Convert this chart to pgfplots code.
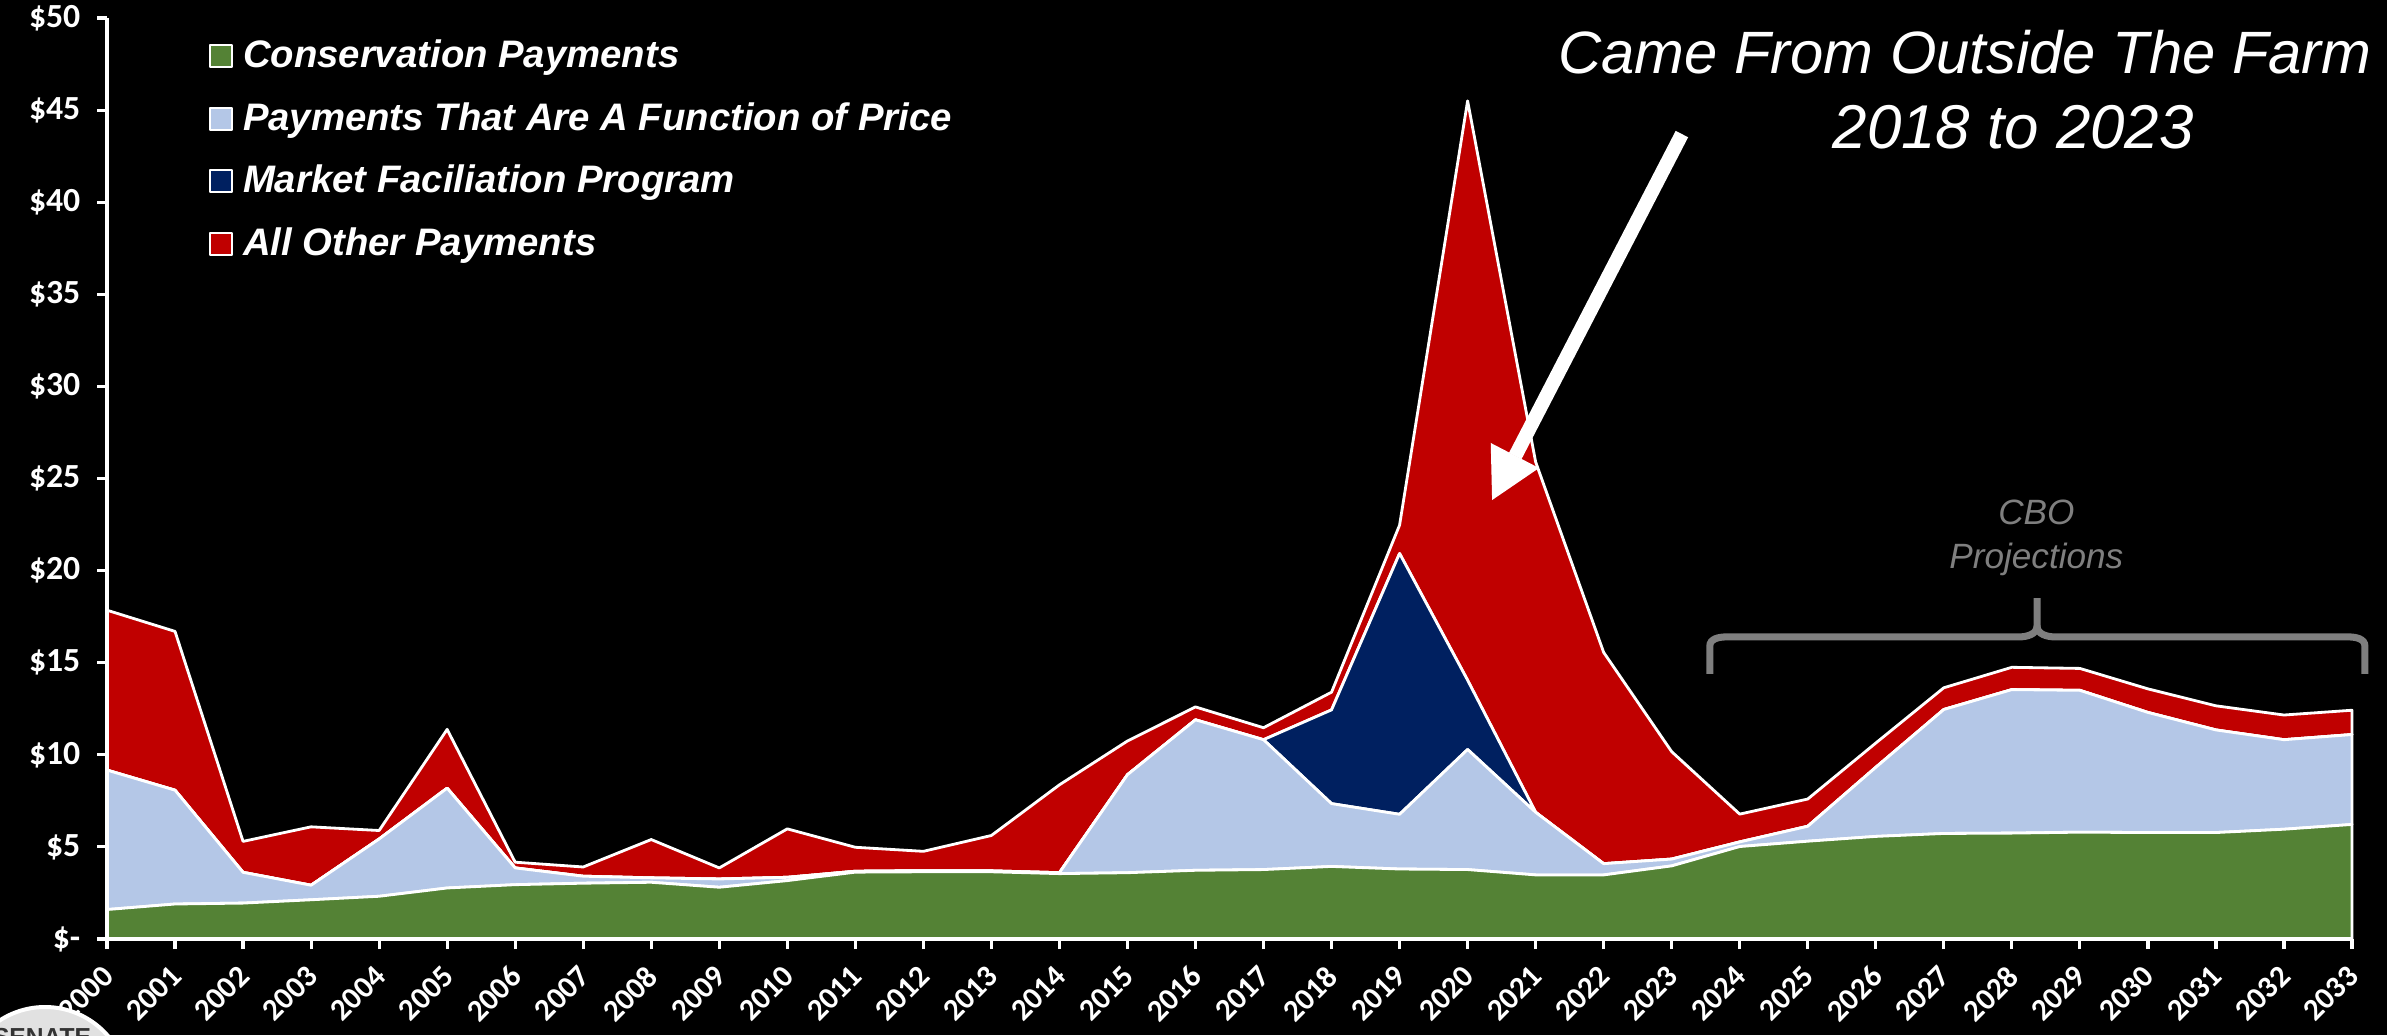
\documentclass[border=0pt]{standalone}
\usepackage{pgfplots}
\pgfplotsset{compat=1.18}
\usepackage{pgfplotstable}
\usepackage{fontspec}
\setmainfont{DejaVu Sans}
\newfontfamily\tickfont{Carlito}
\newfontfamily\legfont{Liberation Sans}
\newfontfamily\titlefont{Liberation Sans}

\definecolor{cgreen}{HTML}{548235}
\definecolor{cblue}{HTML}{B4C7E7}
\definecolor{cnavy}{HTML}{002060}
\definecolor{cred}{HTML}{C00000}
\definecolor{cgray}{HTML}{7F7F7F}
\definecolor{logogray}{HTML}{E1E1E1}
\definecolor{logotext}{HTML}{333333}

\pgfplotstableread{
year cons price mfp other
2000 1.60 7.57 0    8.68
2001 1.90 6.18 0    8.62
2002 1.95 1.67 0    1.68
2003 2.13 0.79 0    3.17
2004 2.32 3.11 0    0.46
2005 2.77 5.42 0    3.19
2006 2.95 0.91 0    0.31
2007 3.03 0.38 0    0.50
2008 3.08 0.24 0    2.08
2009 2.81 0.45 0    0.60
2010 3.17 0.18 0    2.63
2011 3.63 0.05 0    1.30
2012 3.65 0.06 0    1.05
2013 3.65 0.05 0    1.92
2014 3.55 0.05 0    4.77
2015 3.60 5.32 0    1.83
2016 3.73 8.17 0    0.70
2017 3.77 7.05 0    0.65
2018 3.94 3.41 5.09 0.96
2019 3.80 2.97 14.16 1.54
2020 3.77 6.52 3.76 31.45
2021 3.48 3.40 0    19.02
2022 3.48 0.61 0    11.47
2023 3.97 0.37 0    5.83
2024 5.02 0.25 0    1.51
2025 5.31 0.81 0    1.48
2026 5.57 3.75 0    1.32
2027 5.73 6.73 0    1.18
2028 5.75 7.79 0    1.21
2029 5.80 7.70 0    1.19
2030 5.78 6.52 0    1.28
2031 5.78 5.57 0    1.31
2032 5.96 4.86 0    1.34
2033 6.22 4.88 0    1.32
}\paydata

\begin{document}
\begin{tikzpicture}
\useasboundingbox (0,0) rectangle (238.7mm,103.5mm);
\fill[black] (0,0) rectangle (238.7mm,103.5mm);
\begin{axis}[
  scale only axis, width=224.5mm, height=92.1mm,
  at={(10.7mm,9.6mm)}, anchor=south west,
  xmin=2000, xmax=2033, ymin=0, ymax=50,
  stack plots=y,
  axis x line*=bottom, axis y line*=left,
  axis line style={white, line width=0.9pt, -},
  tick style={white, line width=0.9pt},
  tick align=outside,
  major tick length=1mm,
  xtick={2000,2001,...,2033},
  xticklabels={2000,2001,2002,2003,2004,2005,2006,2007,2008,2009,2010,2011,2012,2013,2014,2015,2016,2017,2018,2019,2020,2021,2022,2023,2024,2025,2026,2027,2028,2029,2030,2031,2032,2033},
  ytick={0,5,...,50},
  yticklabels={\$-,\$5,\$10,\$15,\$20,\$25,\$30,\$35,\$40,\$45,\$50},
  xticklabel style={font=\tickfont\bfseries\fontsize{8.8}{10}\selectfont, text=white, inner sep=0pt, xshift=0.15mm, yshift=-2.2mm, rotate=45, anchor=east},
  yticklabel style={font=\tickfont\bfseries\fontsize{9.6}{11}\selectfont, text=white, inner sep=0pt, anchor=east, xshift=-1.6mm},
  axis on top,
  clip=false,
  legend cell align=left,
  legend style={at={(0.0454,0.9924)}, anchor=north west, draw=none, fill=none,
    inner sep=0pt, outer sep=0pt, row sep=0pt, column sep=1mm,
    nodes={inner sep=0pt, text=white, font=\legfont\bfseries\itshape\fontsize{10.9}{12}\selectfont, minimum height=6.25mm}},
  legend image code/.code={\draw[#1,line width=0.6pt] (0mm,-1.1mm) rectangle (2.2mm,1.1mm);},
]
\addplot[fill=cgreen, draw=white, line width=0.8pt, line join=round] table[x=year,y=cons]{\paydata} \closedcycle;
\addlegendentry{Conservation Payments}
\addplot[fill=cblue, draw=white, line width=0.8pt, line join=round] table[x=year,y=price]{\paydata} \closedcycle;
\addlegendentry{Payments That Are A Function of Price}
\addplot[fill=cnavy, draw=white, line width=0.8pt, line join=round] table[x=year,y=mfp]{\paydata} \closedcycle;
\addlegendentry{Market Faciliation Program}
\addplot[fill=cred, draw=white, line width=0.8pt, line join=round] table[x=year,y=other]{\paydata} \closedcycle;
\addlegendentry{All Other Payments}

\coordinate (title1) at (axis cs:2027.31,47.01);
\coordinate (title2) at (axis cs:2028.02,42.94);
\coordinate (arrtail) at (axis cs:2023.15,43.7);
\coordinate (arrbase) at (axis cs:2020.70,26.22);
\coordinate (arrc1) at (axis cs:2021.05,25.57);
\coordinate (arrtip) at (axis cs:2020.36,23.83);
\coordinate (arrc2) at (axis cs:2020.34,26.93);
\coordinate (cbo1) at (axis cs:2028.36,22.48);
\coordinate (cbo2) at (axis cs:2028.36,20.09);
\coordinate (bA) at (axis cs:2023.56,14.4);
\coordinate (bB) at (axis cs:2023.56,15.9);
\coordinate (bC) at (axis cs:2023.8,16.4);
\coordinate (bD) at (axis cs:2028.1,16.4);
\coordinate (bE) at (axis cs:2028.37,17.0);
\coordinate (bF) at (axis cs:2028.37,18.5);
\coordinate (bG) at (axis cs:2028.64,16.4);
\coordinate (bH) at (axis cs:2032.95,16.4);
\coordinate (bI) at (axis cs:2033.19,15.9);
\coordinate (bJ) at (axis cs:2033.19,14.4);
\end{axis}

\node[font=\titlefont\itshape\fontsize{17}{20}\selectfont, text=white, anchor=base] at (title1) {Came From Outside The Farm};
\node[font=\titlefont\itshape\fontsize{17.6}{20}\selectfont, text=white, anchor=base] at (title2) {2018 to 2023};

\draw[white, line width=1.4mm] (arrtail) -- (arrbase);
\fill[white] (arrc1) -- (arrtip) -- (arrc2) -- cycle;

\node[font=\titlefont\itshape\fontsize{10}{12}\selectfont, text=cgray, anchor=base] at (cbo1) {CBO};
\node[font=\titlefont\itshape\fontsize{10}{12}\selectfont, text=cgray, anchor=base] at (cbo2) {Projections};

\draw[cgray, line width=2pt] (bA) -- (bB) to[out=90,in=180] (bC) -- (bD) to[out=0,in=-90] (bE) -- (bF);
\draw[cgray, line width=2pt] (bE) to[out=-90,in=180] (bG) -- (bH) to[out=0,in=90] (bI) -- (bJ);

\fill[logogray] (4.5mm,-5.5mm) circle (8.3mm);
\draw[white, line width=0.4mm] (4.5mm,-5.5mm) circle (8.3mm);
\node[font=\legfont\bfseries\fontsize{7}{8}\selectfont, text=logotext, anchor=base] at (4.2mm,-1.0mm) {SENATE};
\end{tikzpicture}
\end{document}
